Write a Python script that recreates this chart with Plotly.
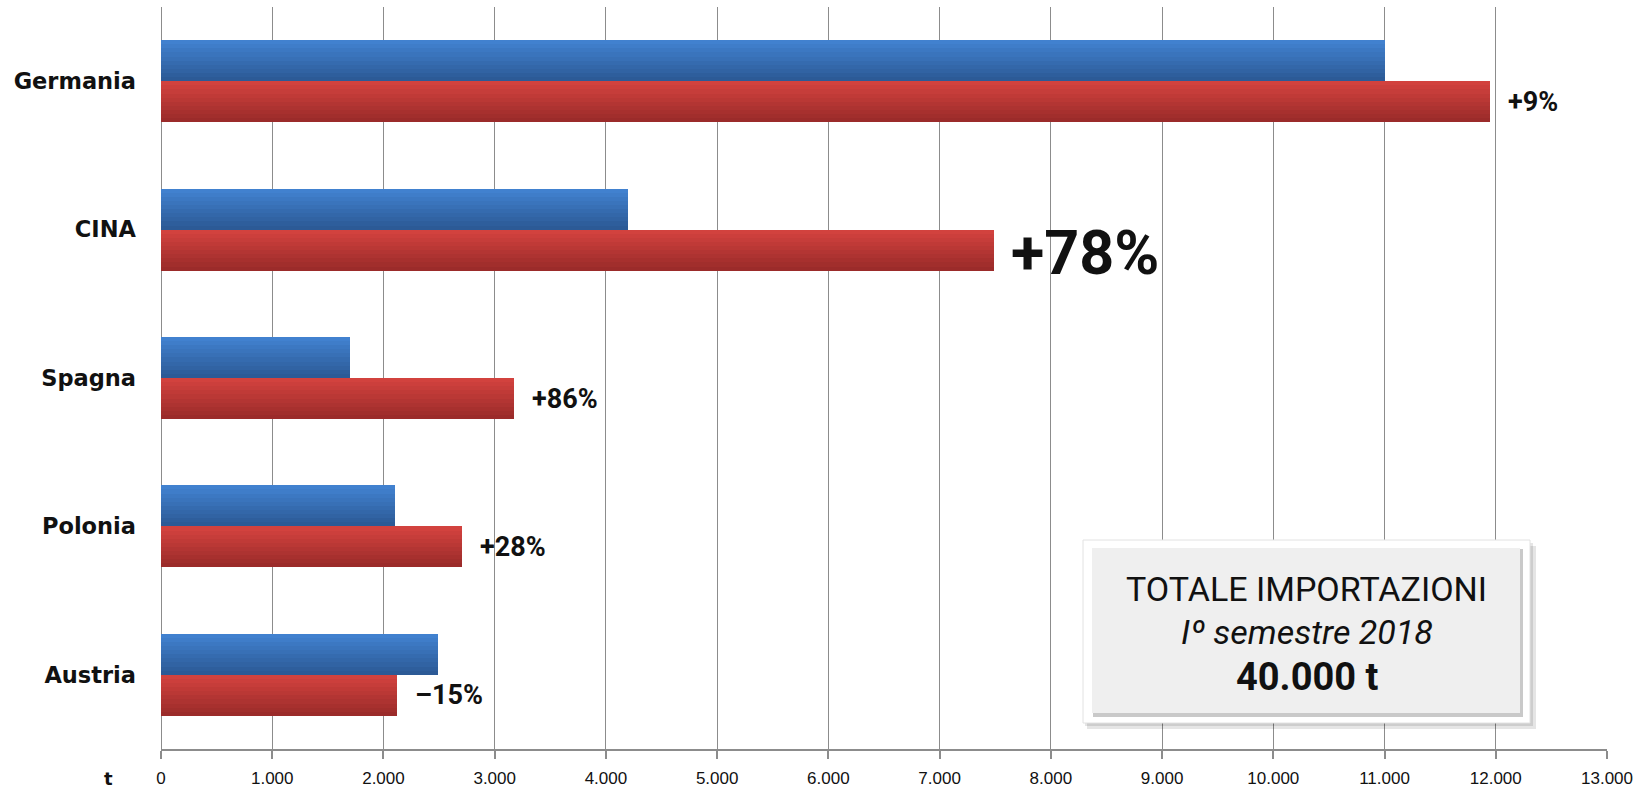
import plotly.graph_objects as go

# ---------------- data ----------------
categories = ["Germania", "CINA", "Spagna", "Polonia", "Austria"]
imports_2017 = [11000, 4200, 1700, 2100, 2490]   # blue bars
imports_2018 = [11950, 7490, 3175, 2710, 2120]   # red bars
change_labels = ["+9%", "+78%", "+86%", "+28%", "–15%"]
x_tick_values = [0, 1000, 2000, 3000, 4000, 5000, 6000, 7000, 8000, 9000, 10000, 11000, 12000, 13000]
x_tick_labels = ["0", "1.000", "2.000", "3.000", "4.000", "5.000", "6.000", "7.000",
                 "8.000", "9.000", "10.000", "11.000", "12.000", "13.000"]
box_lines = ["TOTALE IMPORTAZIONI", "Iº semestre 2018", "40.000 t"]

# ---------------- layout geometry ----------------
W_PX, H_PX = 1652, 790
L, R, T, B = 161, 1607, 7, 749
def px_x(p):
    return (p - L) / (R - L)
def px_y(p):
    return (B - p) / (B - T)

BAR_W = 0.553 / 2
N_STRIPS = 10

def hex2rgb(h):
    h = h.lstrip("#")
    return tuple(int(h[i:i + 2], 16) for i in (0, 2, 4))

def blend(c1, c2, t):
    a, b = hex2rgb(c1), hex2rgb(c2)
    return "rgb(%d,%d,%d)" % tuple(round(a[k] + (b[k] - a[k]) * t) for k in range(3))

fig = go.Figure()

series_styles = [
    (imports_2017, "#4181cf", "#2c5a96", -BAR_W),
    (imports_2018, "#d2423e", "#9b2b2a", 0.0),
]
for values, top_c, bot_c, base in series_styles:
    for i in range(N_STRIPS):
        t = i / (N_STRIPS - 1)
        w = BAR_W / N_STRIPS
        fig.add_trace(go.Bar(
            y=categories, x=values, orientation="h",
            width=w * 1.3 if i < N_STRIPS - 1 else w,
            offset=base + i * w,
            marker=dict(color=blend(top_c, bot_c, t), line=dict(width=0)),
            showlegend=False, hoverinfo="skip",
        ))

annotations = []
for i, (v, lab) in enumerate(zip(imports_2018, change_labels)):
    big = (lab == "+78%")
    annotations.append(dict(
        x=v, y=i + BAR_W / 2, xref="x", yref="y",
        text=lab, showarrow=False, xanchor="left", yanchor="middle",
        xshift=16 if not big else 15, yshift=0 if not big else -3,
        font=dict(family="Roboto", size=61 if big else 27, color="#111111", weight="bold"),
    ))

# axis unit label
annotations.append(dict(
    x=px_x(108), y=0, xref="paper", yref="paper", yshift=-29,
    text="t", showarrow=False, xanchor="center", yanchor="middle",
    font=dict(family="DejaVu Sans", size=18, color="#111111", weight="bold"),
))

# total box texts
box_cx = px_x((1083 + 1530) / 2)
annotations.append(dict(x=box_cx, y=px_y(589), xref="paper", yref="paper", text=box_lines[0],
                        showarrow=False, xanchor="center", yanchor="middle",
                        font=dict(family="Roboto", size=34, color="#111111")))
annotations.append(dict(x=box_cx, y=px_y(632), xref="paper", yref="paper", text="<i>" + box_lines[1] + "</i>",
                        showarrow=False, xanchor="center", yanchor="middle",
                        font=dict(family="Roboto", size=34, color="#111111")))
annotations.append(dict(x=box_cx, y=px_y(677), xref="paper", yref="paper", text="<b>" + box_lines[2] + "</b>",
                        showarrow=False, xanchor="center", yanchor="middle",
                        font=dict(family="Roboto", size=38, color="#111111")))

shapes = [
    # soft shadow
    dict(type="rect", xref="paper", yref="paper", x0=px_x(1087), x1=px_x(1536), y0=px_y(546), y1=px_y(729),
         fillcolor="rgba(0,0,0,0.10)", line=dict(width=0), layer="above"),
    dict(type="rect", xref="paper", yref="paper", x0=px_x(1085), x1=px_x(1533), y0=px_y(543), y1=px_y(726),
         fillcolor="rgba(0,0,0,0.10)", line=dict(width=0), layer="above"),
    # outer white frame
    dict(type="rect", xref="paper", yref="paper", x0=px_x(1083), x1=px_x(1530), y0=px_y(540), y1=px_y(723),
         fillcolor="#ffffff", line=dict(color="#e2e2e2", width=1), layer="above"),
    # bevel bottom/right darker edge
    dict(type="rect", xref="paper", yref="paper", x0=px_x(1093), x1=px_x(1523), y0=px_y(549), y1=px_y(717),
         fillcolor="#c9c9c9", line=dict(width=0), layer="above"),
    # inner gray face
    dict(type="rect", xref="paper", yref="paper", x0=px_x(1092), x1=px_x(1520), y0=px_y(548), y1=px_y(713),
         fillcolor="#efefef", line=dict(width=0), layer="above"),
]

grid_c = "#8c8c8c"
fig.update_layout(
    width=W_PX, height=H_PX,
    margin=dict(l=L, r=W_PX - R, t=T, b=H_PX - B, pad=0, autoexpand=False),
    paper_bgcolor="#ffffff", plot_bgcolor="#ffffff",
    barmode="overlay", bargap=0,
    showlegend=False,
    annotations=annotations,
    shapes=shapes,
    xaxis=dict(
        range=[0, 13000], tickvals=x_tick_values, ticktext=x_tick_labels,
        automargin=False,
        showgrid=True, gridcolor=grid_c, gridwidth=1.2,
        zeroline=True, zerolinecolor=grid_c, zerolinewidth=1.2,
        showline=True, linecolor=grid_c, linewidth=1.5,
        ticks="outside", ticklen=8, tickcolor=grid_c, tickwidth=1.5,
        ticklabelstandoff=5,
        tickfont=dict(family="Liberation Sans", size=17, color="#111111"),
        fixedrange=True,
    ),
    yaxis=dict(
        type="category", categoryorder="array", categoryarray=categories,
        range=[4.5, -0.5], automargin=False,
        showgrid=False, zeroline=False, showline=False, ticks="",
        ticklabelstandoff=24,
        tickfont=dict(family="DejaVu Sans", size=22.5, color="#111111", weight="bold"),
        fixedrange=True,
    ),
)

fig.write_html("out.html", config={"displayModeBar": False})
